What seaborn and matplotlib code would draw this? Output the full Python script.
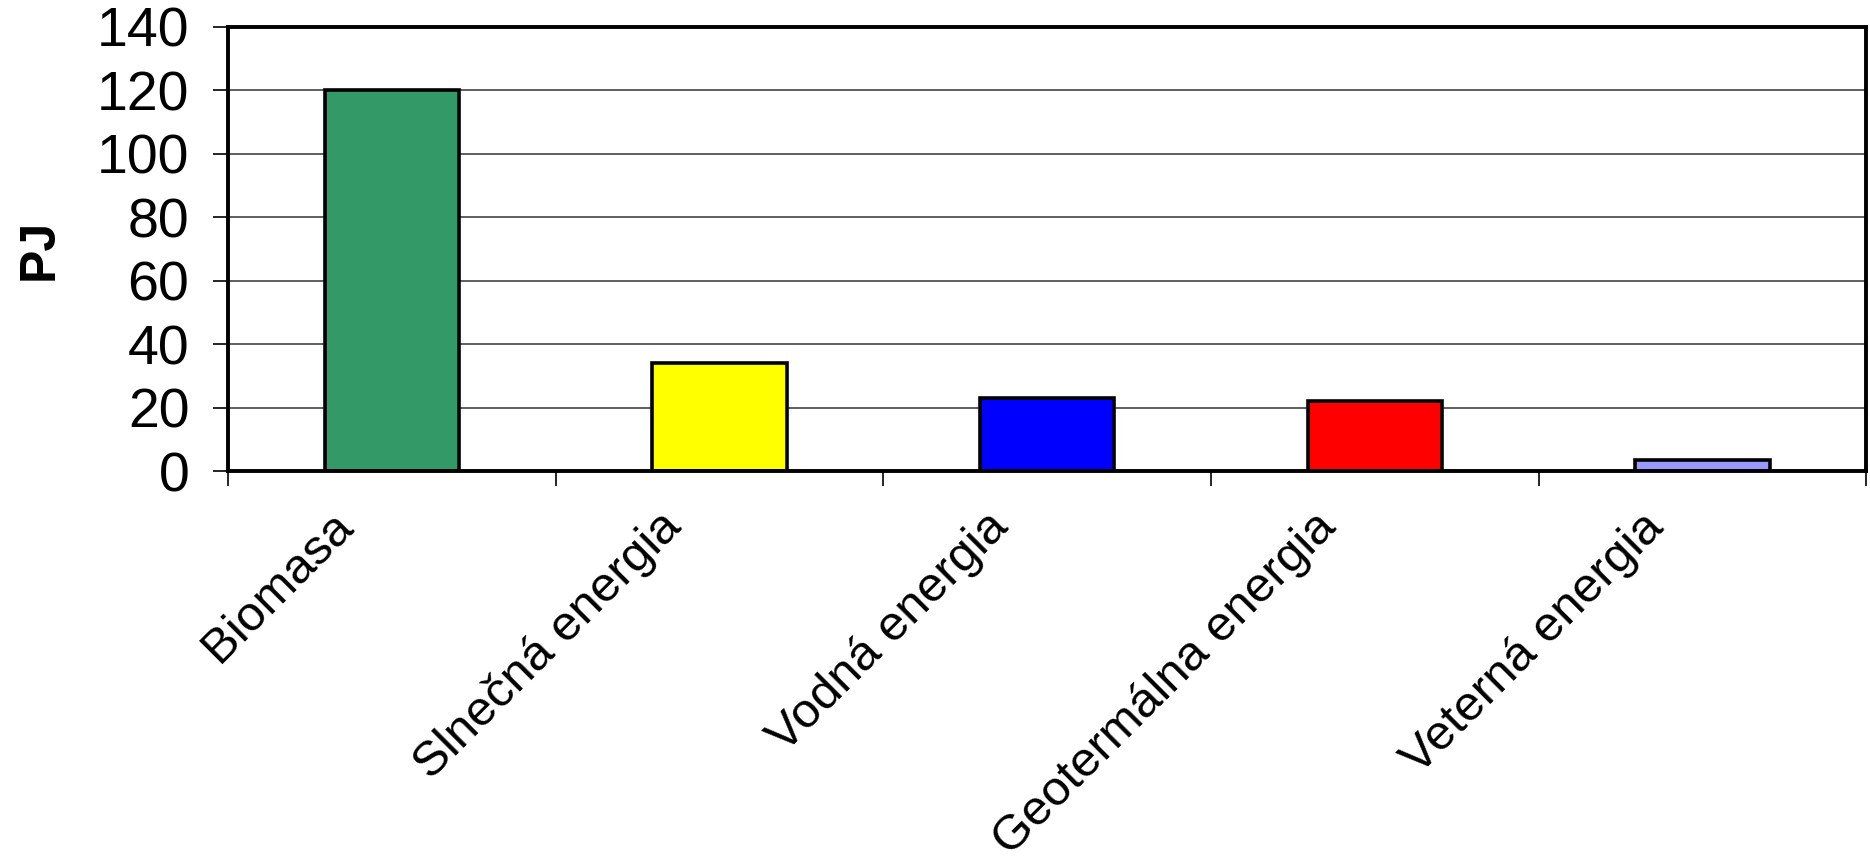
import seaborn as sns
import matplotlib.pyplot as plt
from matplotlib.transforms import ScaledTranslation

sources = ['Biomasa', 'Slnečná energia', 'Vodná energia',
           'Geotermálna energia', 'Veterná energia']
energy_pj = [120, 34, 23, 22, 3.5]
bar_colors = ['#339966', '#FFFF00', '#0000FF', '#FF0000', '#9999FF']
y_ticks = [0, 20, 40, 60, 80, 100, 120, 140]

sns.set_style('white')
plt.rcParams['font.family'] = ['Liberation Sans', 'DejaVu Sans']
plt.rcParams['text.color'] = 'black'
plt.rcParams['xtick.color'] = 'black'
plt.rcParams['ytick.color'] = 'black'
plt.rcParams['axes.labelcolor'] = 'black'

fig = plt.figure(figsize=(18.7, 8.63), dpi=100)
ax = fig.add_axes([0.122, 0.454, 0.876, 0.515])

sns.barplot(x=sources, y=energy_pj, hue=sources, palette=bar_colors,
            legend=False, width=0.41, edgecolor='black', linewidth=2.6,
            saturation=1, ax=ax)

ax.set_xlim(-0.5, len(sources) - 0.5)
ax.set_ylim(0, 140)
ax.set_yticks(y_ticks)
ax.grid(axis='y', color='#333333', linewidth=1.1)
ax.grid(axis='x', visible=False)
ax.set_axisbelow(True)

for side in ['left', 'right', 'top', 'bottom']:
    ax.spines[side].set_visible(True)
    ax.spines[side].set_color('black')
    ax.spines[side].set_linewidth(2.8)

ax.tick_params(axis='y', length=11, width=1.2, pad=17,
               labelsize=40, left=True)

# category boundaries get the small ticks, labels sit on the centres
ax.set_xticks([i - 0.5 for i in range(len(sources) + 1)], minor=True)
ax.tick_params(axis='x', which='minor', length=11, width=1.2, bottom=True)
ax.tick_params(axis='x', which='major', length=0, pad=35, labelsize=35.5)
shift = ScaledTranslation(-0.46, 0, fig.dpi_scale_trans)
for lab in ax.get_xticklabels():
    lab.set_rotation(45)
    lab.set_ha('right')
    lab.set_va('center')
    lab.set_rotation_mode('anchor')
    lab.set_transform(lab.get_transform() + shift)

ax.set_xlabel('')
ax.set_ylabel('PJ', fontsize=36, fontweight='bold')
ax.yaxis.set_label_coords(-0.101, 0.5)

plt.savefig('out.png', dpi=100)
